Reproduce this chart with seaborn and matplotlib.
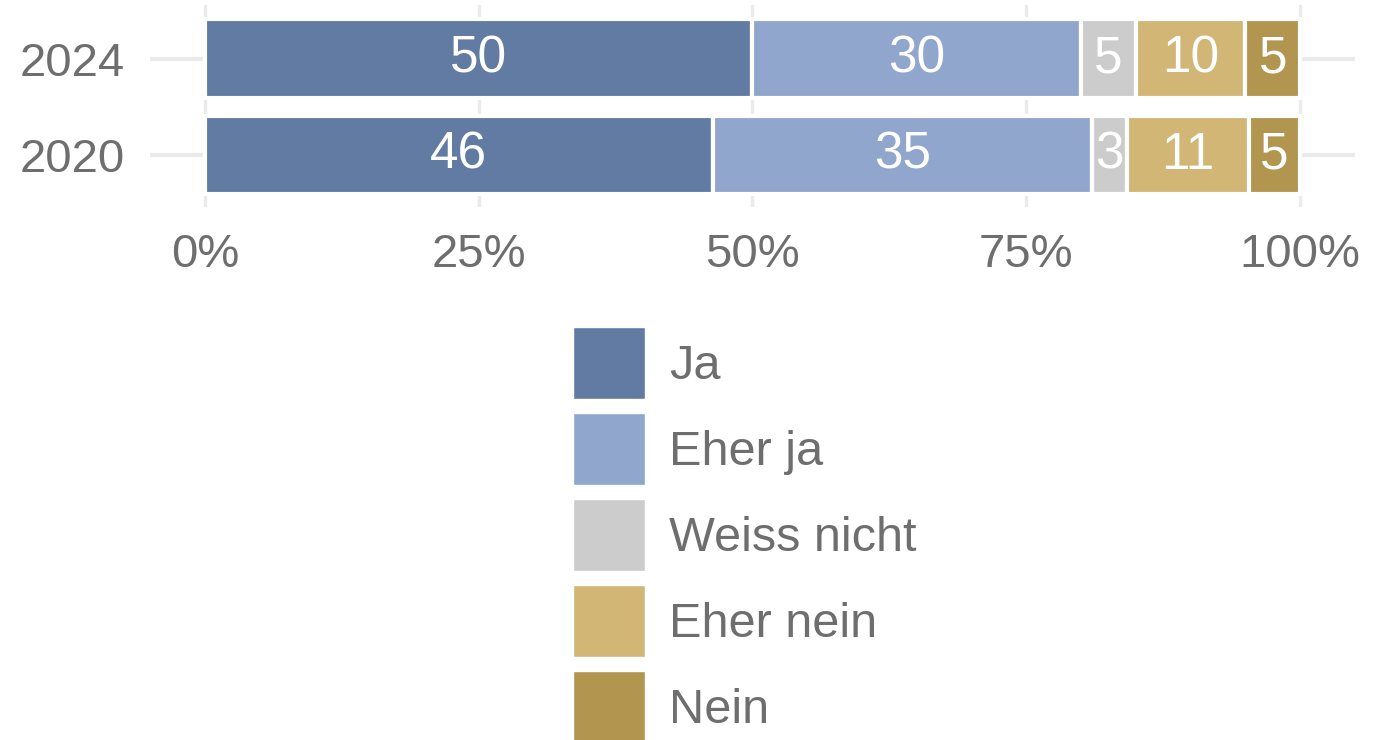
import pandas as pd
import seaborn as sns
import matplotlib.pyplot as plt
from matplotlib.patches import Patch

# Survey shares per year (bar widths) and the labels printed on the bars
years = ["2024", "2020"]
answers = ["Ja", "Eher ja", "Weiss nicht", "Eher nein", "Nein"]
share_ja = [50.0, 46.4]
share_eher_ja = [30.0, 34.6]
share_weiss_nicht = [5.0, 3.2]
share_eher_nein = [10.0, 11.1]
share_nein = [5.0, 4.7]
labels_2024 = ["50", "30", "5", "10", "5"]
labels_2020 = ["46", "35", "3", "11", "5"]
ticks = [0, 25, 50, 75, 100]
colors = ["#627BA3", "#91A6CC", "#CCCCCC", "#D1B676", "#B2964F"]

shares = [share_ja, share_eher_ja, share_weiss_nicht, share_eher_nein, share_nein]
bar_labels = [labels_2024, labels_2020]

sns.set_style("white")
plt.rcParams["font.family"] = ["Liberation Sans", "DejaVu Sans"]

fs = 34          # tick labels
fs_bar = 37      # numbers inside bars
fs_leg = 35      # legend
text_col = "#6e6e6e"

fig = plt.figure(figsize=(13.75, 7.4), dpi=100)
ax = fig.add_axes([150 / 1375, 1 - 207 / 740, 1205 / 1375, 202 / 740])

# gridlines behind the bars
for t in ticks:
    ax.axvline(t, color="#ebebeb", lw=2.5, zorder=0)
for i in range(len(years)):
    ax.axhline(i, color="#ebebeb", lw=3, zorder=0)

left = [0.0] * len(years)
for k, (ans, vals, col) in enumerate(zip(answers, shares, colors)):
    df = pd.DataFrame({"year": years, "share": vals})
    sns.barplot(data=df, x="share", y="year", order=years, orient="h",
                color=col, width=0.82, left=left, edgecolor="white",
                linewidth=3, saturation=1, ax=ax, zorder=2)
    for i, v in enumerate(vals):
        ax.text(left[i] + v / 2, i, bar_labels[i][k], color="white",
                ha="center", va="center", fontsize=fs_bar, zorder=3)
    left = [a + b for a, b in zip(left, vals)]

ax.set_xlim(-5, 105)
ax.set_ylim(1.54, -0.56)
ax.set_xticks(ticks)
ax.set_xticklabels([f"{t}%" for t in ticks])
ax.set_xlabel("")
ax.set_ylabel("")
ax.tick_params(axis="both", length=0, labelsize=fs, labelcolor=text_col)
ax.tick_params(axis="x", pad=19)
ax.tick_params(axis="y", pad=18)
for s in ax.spines.values():
    s.set_visible(False)

# legend keys about 72 px square, 86 px apart
px = fs_leg * 100 / 72
hh = (72 / px - 0.245) / 0.65
handles = [Patch(facecolor=c, edgecolor="white", linewidth=1) for c in colors]
fig.legend(handles, answers, loc="upper left",
           bbox_to_anchor=(573 / 1375, 1 - 327 / 740), frameon=False,
           fontsize=fs_leg, labelcolor=text_col, borderpad=0, borderaxespad=0,
           handlelength=72 / px, handleheight=hh,
           labelspacing=14 / px, handletextpad=0.5)

fig.savefig("out.png", dpi=100)
